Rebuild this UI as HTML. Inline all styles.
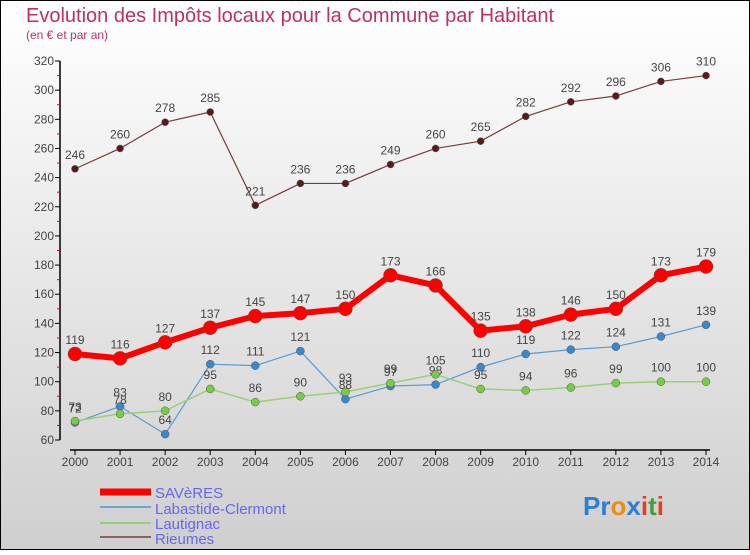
<!DOCTYPE html>
<html><head><meta charset="utf-8"><style>
html,body{margin:0;padding:0}
body{width:750px;height:550px;overflow:hidden;font-family:"Liberation Sans","DejaVu Sans",sans-serif}
</style></head><body>
<svg id="chart" width="750" height="550" xmlns="http://www.w3.org/2000/svg">
<defs><linearGradient id="bg" x1="0" y1="0" x2="0" y2="1"><stop offset="0" stop-color="#ffffff"/><stop offset="1" stop-color="#cfcfcf"/></linearGradient></defs>
<rect x="0.5" y="0.5" width="749" height="549" fill="url(#bg)" stroke="#000"/>
<text x="26" y="22" font-size="20" fill="#c0305a">Evolution des Impôts locaux pour la Commune par Habitant</text>
<text x="26" y="39" font-size="12" fill="#c0305a">(en € et par an)</text>
<g id="axes"></g><g id="series"></g>
<g>
<line x1="100" y1="492" x2="151" y2="492" stroke="#f00" stroke-width="7"/>
<text x="155" y="498" font-size="15" fill="#6666ee">SAVèRES</text>
<line x1="100" y1="507" x2="151" y2="507" stroke="#6aa6d0" stroke-width="2"/>
<text x="155" y="514" font-size="15" fill="#6666ee">Labastide-Clermont</text>
<line x1="100" y1="523" x2="151" y2="523" stroke="#99d077" stroke-width="2"/>
<text x="155" y="529" font-size="15" fill="#6666ee">Lautignac</text>
<line x1="100" y1="537" x2="151" y2="537" stroke="#8e6060" stroke-width="2"/>
<text x="155" y="544" font-size="15" fill="#6666ee">Rieumes</text>
</g>
<g font-size="26" font-weight="bold">
<text x="583" y="515"><tspan fill="#2a7fcf">Pr</tspan><tspan fill="#f08a10">o</tspan><tspan fill="#2a7fcf">x</tspan><tspan fill="#e04020">i</tspan><tspan fill="#40a040">t</tspan><tspan fill="#e04020">i</tspan></text>
</g>
</svg>
<script>
const years=[2000,2001,2002,2003,2004,2005,2006,2007,2008,2009,2010,2011,2012,2013,2014];
const saveres=[119,116,127,137,145,147,150,173,166,135,138,146,150,173,179];
const labastide=[72,83,64,112,111,121,88,97,98,110,119,122,124,131,139];
const lautignac=[73,78,80,95,86,90,93,99,105,95,94,96,99,100,100];
const rieumes=[246,260,278,285,221,236,236,249,260,265,282,292,296,306,310];
const yTicks=[60,80,100,120,140,160,180,200,220,240,260,280,300,320];
const NS="http://www.w3.org/2000/svg";
function x(i){return 75+i*(706-75)/(years.length-1);}
function y(v){return 440-(v-60)*(379/260);}
function mk(tag,attrs,parent,txt){const e=document.createElementNS(NS,tag);for(const k in attrs)e.setAttribute(k,attrs[k]);if(txt!==undefined)e.textContent=txt;parent.appendChild(e);return e;}
const ax=document.getElementById('axes');
const yl=mk('line',{x1:60,y1:61,x2:60,y2:440,stroke:'#000','stroke-width':1.5},ax);


yTicks.forEach((t,i)=>{
 mk('line',{x1:55,y1:y(t),x2:60,y2:y(t),stroke:'#000'},ax);
 if(i<yTicks.length-1)mk('line',{x1:57,y1:y(t+10),x2:60,y2:y(t+10),stroke:'#f00'},ax);
 const tx=mk('text',{x:54,y:y(t)+4,'font-size':12,fill:'#444','text-anchor':'end'},ax,t);
 
 
});
const xl=mk('line',{x1:70,y1:450,x2:710,y2:450,stroke:'#000','stroke-width':1.5},ax);


years.forEach((yr,i)=>{
 mk('line',{x1:x(i),y1:450,x2:x(i),y2:455,stroke:'#000'},ax);
 const tx=mk('text',{x:x(i),y:466,'font-size':12,fill:'#444','text-anchor':'middle'},ax,yr);
 
 
});
const sg=document.getElementById('series');
function draw(data,name,color,w,r,dot){
 const g=mk('g',{},sg);
 
 
 const ln=mk('polyline',{points:data.map((v,i)=>x(i)+','+y(v)).join(' '),fill:'none',stroke:color,'stroke-width':w,'stroke-linejoin':'round'},g);
 
 
 data.forEach((v,i)=>{
  const c=mk('circle',{cx:x(i),cy:y(v),r:r,fill:dot,stroke:'#555','stroke-width':0.5},g);
  
  
  const t=mk('text',{x:x(i),y:y(v)-10,'font-size':12,fill:'#444','text-anchor':'middle'},g,v);
  
  
 });
}
draw(rieumes,'rieumes','#7a3a3a',1.2,3.5,'#5a1a1a');
draw(labastide,'labastide','#5a9ad0',1.2,4,'#3a88cc');
draw(lautignac,'lautignac','#99d077',1.5,4,'#77cc44');
draw(saveres,'saveres','#f00',6,7,'#f00');
</script>
</body></html>
